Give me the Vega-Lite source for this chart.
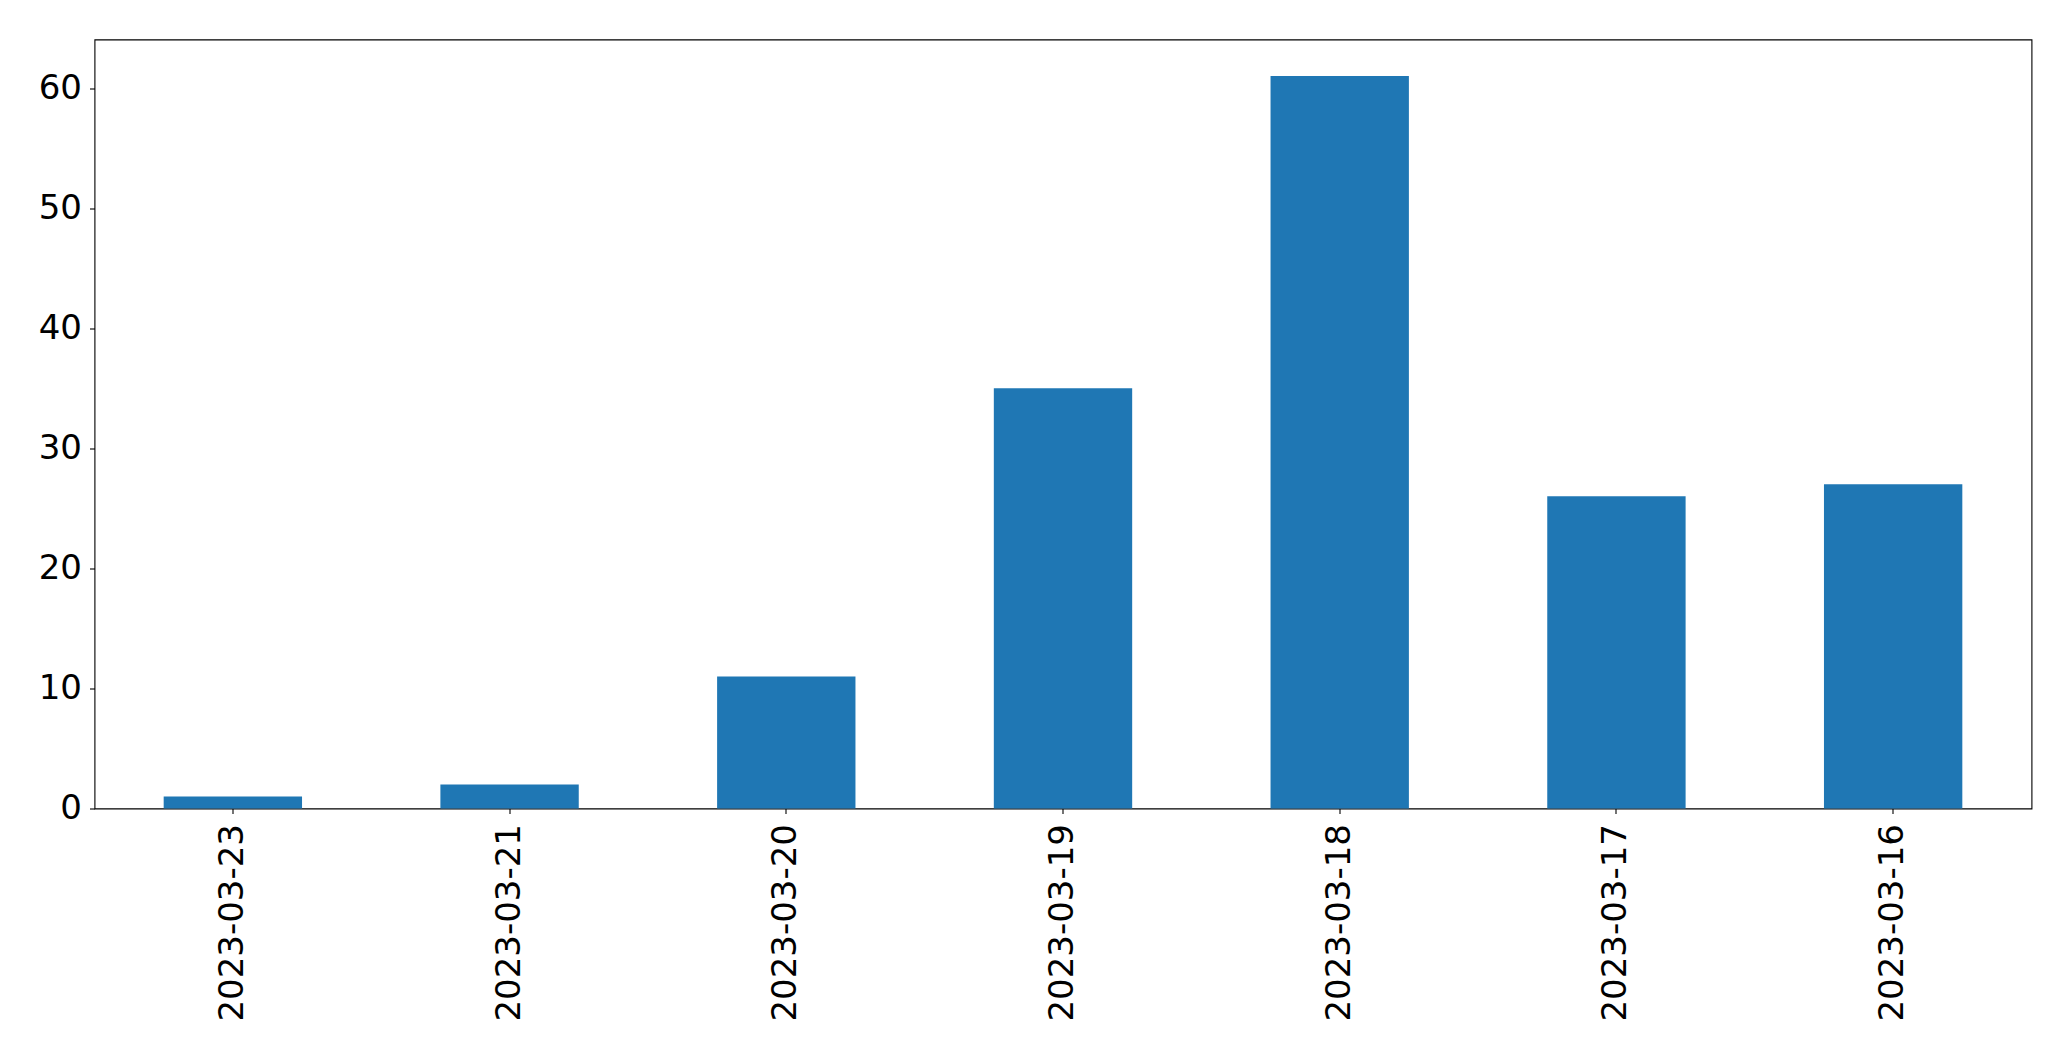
{
  "$schema": "https://vega.github.io/schema/vega-lite/v6.json",
  "autosize": {"type": "none"},
  "padding": {"left": 94.5, "top": 39.5, "right": 39.5, "bottom": 252},
  "width": 1937,
  "height": 769,
  "background": "white",
  "config": {
    "view": {"stroke": "black", "strokeWidth": 1.1},
    "font": "DejaVu Sans"
  },
  "data": {
    "values": [
      {"date": "2023-03-23", "count": 1},
      {"date": "2023-03-21", "count": 2},
      {"date": "2023-03-20", "count": 11},
      {"date": "2023-03-19", "count": 35},
      {"date": "2023-03-18", "count": 61},
      {"date": "2023-03-17", "count": 26},
      {"date": "2023-03-16", "count": 27}
    ]
  },
  "mark": {"type": "bar", "color": "#1f77b4"},
  "encoding": {
    "x": {
      "field": "date",
      "type": "ordinal",
      "sort": null,
      "scale": {"paddingInner": 0.5, "paddingOuter": 0.25},
      "axis": {
        "title": null,
        "labelAngle": -90,
        "labelFont": "DejaVu Sans",
        "labelFontSize": 34,
        "labelColor": "black",
        "labelPadding": 10,
        "labelLimit": 0,
        "tickColor": "black",
        "tickSize": 5,
        "tickWidth": 1.1,
        "domain": false,
        "labelBaseline": "middle",
        "labelAlign": "right"
      }
    },
    "y": {
      "field": "count",
      "type": "quantitative",
      "scale": {"domain": [0, 64.05], "nice": false, "zero": true},
      "axis": {
        "title": null,
        "values": [0, 10, 20, 30, 40, 50, 60],
        "grid": false,
        "domain": false,
        "labelFont": "DejaVu Sans",
        "labelFontSize": 34,
        "labelColor": "black",
        "labelPadding": 8,
        "tickColor": "black",
        "tickSize": 5,
        "tickWidth": 1.1
      }
    }
  }
}
